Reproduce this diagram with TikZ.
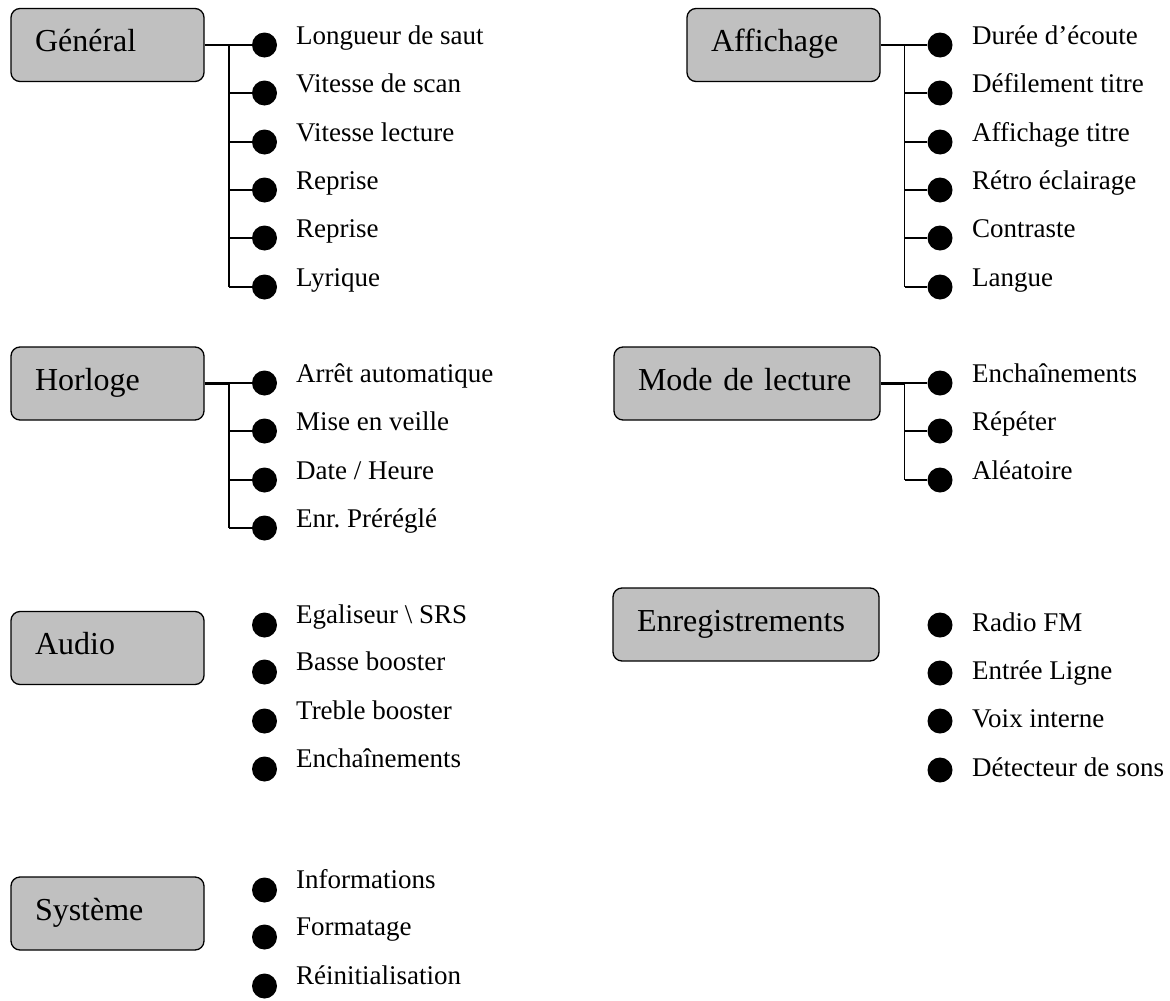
\documentclass[tikz,border=0pt]{standalone}
\usepackage{fontspec}
\setmainfont{Liberation Serif}
\definecolor{boxgray}{RGB}{192,192,192}
\tikzset{
  menubox/.style={draw, line width=1.3pt, rounded corners=9pt, fill=boxgray,
    minimum height=73pt, inner xsep=24pt, inner ysep=0pt, align=left,
    text height=20pt, text depth=7pt, font=\fontsize{32}{38}\selectfont},
  bullet/.style={circle, fill=black, inner sep=0pt, minimum size=25pt},
  entry/.style={anchor=base west, inner sep=0pt, font=\fontsize{27}{32}\selectfont},
  trunk/.style={line width=2.4pt},
  spine/.style={line width=1.8pt},
  twig/.style={line width=1.1pt},
}

\begin{document}
\frenchspacing
\begin{tikzpicture}[x=1pt,y=-1pt]
    \useasboundingbox (0,0) rectangle (1170,1001);

    % Général
    \node[menubox, text width=145pt] (gen) at (107.5,45) {Général};
    \coordinate (gen-j) at (229,45);
    \foreach \i/\y/\t in {1/45/Longueur de saut, 2/93/Vitesse de scan,
        3/142/Vitesse lecture, 4/190/Reprise, 5/238/Reprise, 6/287/Lyrique} {
        \node[bullet] (gen\i) at (264.5,\y) {};
        \node[entry] (gen\i-t) at (296,\y-1) {\t};
        \draw[twig] (gen-j |- gen\i) -- (gen\i.west);
    }
    \draw[trunk] (gen.east) -- (gen-j);
    \draw[spine] (gen-j) -- (gen-j |- gen6);

    % Affichage
    \node[menubox, text width=145pt] (aff) at (783.5,45) {Affichage};
    \coordinate (aff-j) at (904.5,45);
    \foreach \i/\y/\t in {1/45/Durée d’écoute, 2/93/Défilement titre,
        3/142/Affichage titre, 4/190/Rétro éclairage, 5/238/Contraste, 6/287/Langue} {
        \node[bullet] (aff\i) at (940,\y) {};
        \node[entry] (aff\i-t) at (972,\y-1) {\t};
        \draw[twig] (aff-j |- aff\i) -- (aff\i.west);
    }
    \draw[trunk] (aff.east) -- (aff-j);
    \draw[spine] (aff-j) -- (aff-j |- aff6);

    % Horloge
    \node[menubox, text width=145pt] (hor) at (107.5,383.5) {Horloge};
    \coordinate (hor-j) at (229,383);
    \foreach \i/\y/\t in {1/383/Arrêt automatique, 2/431/Mise en veille,
        3/480/{Date / Heure}, 4/528/{Enr.\ Préréglé}} {
        \node[bullet] (hor\i) at (264.5,\y) {};
        \node[entry] (hor\i-t) at (296,\y-1) {\t};
        \draw[twig] (hor-j |- hor\i) -- (hor\i.west);
    }
    \draw[trunk] (hor.east) -- (hor.east -| hor-j);
    \draw[spine] (hor-j) -- (hor-j |- hor4);

    % Mode de lecture
    \node[menubox, text width=218pt] (mod) at (747,383.5) {Mode de lecture};
    \coordinate (mod-j) at (904.5,383);
    \foreach \i/\y/\t in {1/383/Enchaînements, 2/431/Répéter, 3/480/Aléatoire} {
        \node[bullet] (mod\i) at (940,\y) {};
        \node[entry] (mod\i-t) at (972,\y-1) {\t};
        \draw[twig] (mod-j |- mod\i) -- (mod\i.west);
    }
    \draw[trunk] (mod.east) -- (mod.east -| mod-j);
    \draw[spine] (mod-j) -- (mod-j |- mod3);

    % Audio
    \node[menubox, text width=145pt] (aud) at (107.5,648) {Audio};
    \foreach \i/\y/\t in {1/625/Egaliseur \textbackslash{} SRS, 2/672/Basse booster,
        3/721/Treble booster, 4/769/Enchaînements} {
        \node[bullet] (aud\i) at (264.5,\y) {};
        \node[entry] (aud\i-t) at (296,\y-2) {\t};
    }

    % Enregistrements
    \node[menubox, text width=218pt] (enr) at (746,624.5) {Enregistrements};
    \foreach \i/\y/\t in {1/625/Radio FM, 2/673/Entrée Ligne,
        3/721/Voix interne, 4/770/Détecteur de sons} {
        \node[bullet] (enr\i) at (940,\y) {};
        \node[entry] (enr\i-t) at (972,\y+6) {\t};
    }

    % Système
    \node[menubox, text width=145pt] (sys) at (107.5,913.5) {Système};
    \foreach \i/\y/\t in {1/890/Informations, 2/937/Formatage, 3/986/Réinitialisation} {
        \node[bullet] (sys\i) at (264.5,\y) {};
        \node[entry] (sys\i-t) at (296,\y-2) {\t};
    }

\end{tikzpicture}
\end{document}
